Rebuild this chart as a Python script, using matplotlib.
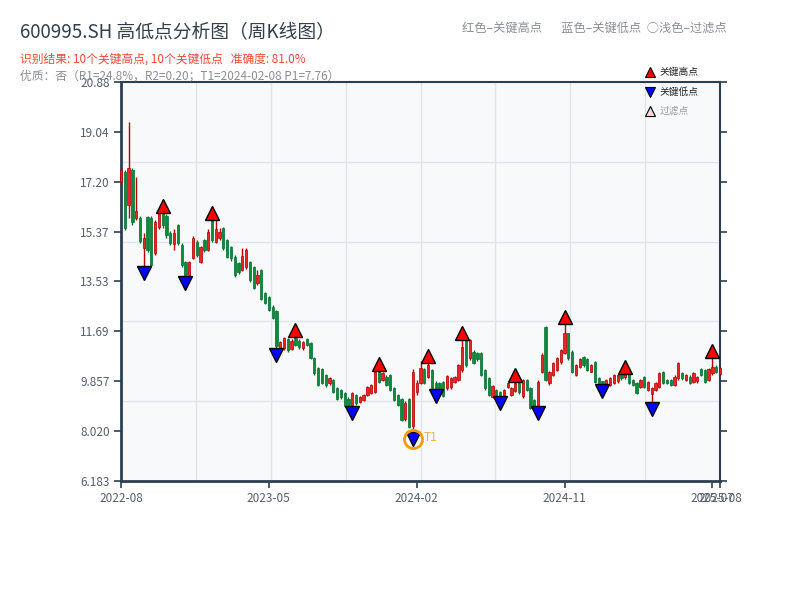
import numpy as np
import matplotlib
matplotlib.use("Agg")
import matplotlib.pyplot as plt
from matplotlib.transforms import offset_copy
from matplotlib.lines import Line2D

plt.rcParams['font.family'] = ['Noto Sans CJK SC', 'DejaVu Sans']

# ---------------- data (weekly OHLC) ----------------
opens = [17.20, 17.57, 16.35, 17.64, 15.87, 15.87, 14.77, 15.90, 15.87, 14.58,
         15.54, 16.05, 15.95, 15.32, 14.90, 15.61, 14.88, 14.25, 13.77, 14.40,
         14.99, 14.25, 15.06, 14.69, 15.80, 15.00, 15.13, 15.50, 15.06, 14.80,
         14.43, 14.20, 13.96, 14.06, 14.25, 14.07, 13.48, 13.96, 13.10, 12.95,
         12.60, 12.45, 10.95, 11.08, 11.40, 11.05, 11.45, 11.35, 11.08, 11.40,
         11.27, 10.72, 10.33, 10.30, 10.09, 9.78, 9.90, 9.60, 9.53, 9.41,
         9.20, 8.95, 9.35, 9.11, 9.17, 9.35, 9.41, 9.47, 10.21, 9.90,
         10.03, 10.09, 9.60, 9.35, 9.20, 8.45, 9.20, 8.20, 9.45, 9.80,
         10.30, 10.03, 10.27, 9.80, 9.78, 9.84, 9.60, 9.63, 9.84, 9.90,
         10.27, 11.38, 10.70, 10.95, 10.88, 10.88, 10.27, 9.97, 9.29, 9.55,
         9.45, 9.29, 9.66, 9.35, 9.50, 9.80, 9.30, 9.90, 9.60, 9.17,
         8.92, 10.21, 11.87, 9.78, 10.09, 10.27, 10.55, 10.89, 11.62, 10.95,
         10.09, 10.39, 10.76, 10.66, 10.21, 10.58, 9.97, 9.85, 9.72, 9.72,
         9.78, 9.85, 10.13, 10.00, 10.14, 9.90, 9.78, 9.66, 10.03, 9.54,
         9.40, 9.54, 9.66, 10.21, 9.90, 9.90, 9.72, 9.97, 10.15, 9.90,
         10.03, 9.84, 9.85, 10.30, 10.27, 9.90, 10.15, 10.40, 10.12]
closes = [17.64, 15.50, 17.71, 15.72, 16.13, 15.02, 15.13, 14.70, 14.14, 15.72,
          16.05, 15.60, 15.24, 14.95, 15.32, 14.95, 14.14, 13.77, 14.25, 15.13,
          14.51, 14.80, 14.69, 15.35, 15.06, 15.45, 15.35, 14.77, 14.43, 14.40,
          13.77, 13.88, 14.47, 14.69, 13.58, 13.30, 13.77, 12.90, 12.75, 12.50,
          12.20, 11.15, 11.30, 11.45, 11.00, 11.35, 11.20, 11.12, 11.30, 11.20,
          10.72, 10.16, 9.72, 9.81, 9.72, 9.96, 9.47, 9.19, 9.27, 8.95,
          9.00, 9.41, 9.04, 9.29, 9.35, 9.63, 9.72, 10.21, 9.84, 10.15,
          9.72, 9.53, 9.17, 9.00, 8.43, 9.06, 8.18, 10.20, 9.80, 10.35,
          9.80, 10.45, 9.60, 9.60, 9.38, 9.32, 10.05, 9.97, 10.00, 10.46,
          11.13, 10.46, 11.38, 10.52, 10.66, 10.09, 9.60, 9.35, 9.68, 9.35,
          9.33, 9.54, 9.78, 9.60, 9.80, 9.45, 9.90, 9.54, 8.86, 8.95,
          9.84, 10.82, 9.90, 10.21, 10.52, 10.70, 11.00, 11.62, 10.70, 10.21,
          10.45, 10.66, 10.45, 10.27, 10.45, 9.84, 9.76, 9.75, 9.90, 9.97,
          10.09, 10.10, 9.97, 10.14, 9.78, 9.72, 9.44, 9.90, 9.66, 9.84,
          9.60, 9.78, 10.15, 9.78, 9.78, 9.72, 10.03, 10.52, 9.97, 10.09,
          9.78, 10.15, 10.00, 10.10, 9.84, 10.30, 10.40, 10.21, 10.33]
highs = [17.72, 17.65, 19.41, 17.70, 17.38, 15.95, 15.30, 15.95, 15.95, 15.80,
         16.08, 16.09, 16.00, 15.40, 15.45, 15.65, 14.95, 14.30, 14.30, 15.20,
         15.05, 14.85, 15.10, 15.45, 15.83, 15.78, 15.50, 15.55, 15.10, 14.85,
         14.50, 14.25, 14.75, 14.75, 14.30, 14.10, 13.96, 14.00, 13.15, 13.00,
         12.65, 12.50, 11.35, 11.48, 11.45, 11.40, 11.49, 11.40, 11.35, 11.45,
         11.30, 10.75, 10.38, 10.35, 10.12, 10.02, 9.95, 9.65, 9.58, 9.45,
         9.28, 9.45, 9.40, 9.33, 9.40, 9.68, 9.76, 10.23, 10.24, 10.20,
         10.08, 10.12, 9.65, 9.40, 9.25, 9.12, 9.25, 10.30, 9.90, 10.60,
         10.35, 10.53, 10.30, 9.85, 9.82, 9.88, 10.10, 10.02, 10.05, 10.50,
         11.41, 11.40, 11.40, 11.00, 10.92, 10.92, 10.30, 10.00, 9.72, 9.58,
         9.50, 9.58, 9.82, 9.65, 9.84, 9.82, 9.95, 9.95, 9.65, 9.20,
         9.90, 10.88, 11.90, 10.25, 10.56, 10.75, 11.05, 12.00, 11.65, 11.00,
         10.50, 10.70, 10.80, 10.70, 10.50, 10.62, 10.00, 9.88, 9.94, 10.00,
         10.12, 10.13, 10.15, 10.16, 10.15, 9.94, 9.82, 9.94, 10.06, 9.88,
         9.65, 9.82, 10.20, 10.25, 9.94, 9.94, 10.08, 10.56, 10.20, 10.14,
         10.08, 10.20, 10.05, 10.35, 10.30, 10.35, 10.74, 10.45, 10.38]
lows = [17.05, 15.42, 15.87, 15.60, 15.80, 14.95, 14.07, 14.60, 14.10, 14.50,
        15.45, 15.50, 15.15, 14.88, 14.70, 14.88, 14.05, 13.73, 13.74, 14.35,
        14.45, 14.20, 14.60, 14.65, 15.00, 14.95, 15.05, 14.70, 14.38, 14.30,
        13.70, 13.80, 13.90, 14.00, 13.50, 13.25, 13.40, 12.85, 12.70, 12.45,
        12.15, 11.05, 10.90, 11.00, 10.95, 11.00, 11.15, 11.05, 11.02, 11.15,
        10.68, 10.10, 9.68, 9.75, 9.66, 9.72, 9.42, 9.15, 9.20, 8.92,
        8.95, 8.91, 9.00, 9.05, 9.12, 9.30, 9.38, 9.44, 9.80, 9.85,
        9.68, 9.48, 9.12, 8.95, 8.38, 8.40, 8.12, 7.98, 9.35, 9.75,
        9.75, 9.98, 9.58, 9.56, 9.33, 9.28, 9.55, 9.58, 9.80, 9.85,
        10.20, 10.40, 10.65, 10.48, 10.60, 10.05, 9.55, 9.30, 9.25, 9.30,
        9.28, 9.25, 9.60, 9.30, 9.45, 9.40, 9.25, 9.50, 8.82, 8.92,
        8.91, 10.15, 9.85, 9.72, 10.05, 10.22, 10.50, 10.85, 10.65, 10.15,
        10.05, 10.35, 10.40, 10.22, 10.18, 9.80, 9.73, 9.72, 9.70, 9.70,
        9.75, 9.80, 9.92, 9.95, 9.74, 9.68, 9.40, 9.62, 9.62, 9.50,
        9.06, 9.50, 9.62, 9.74, 9.74, 9.68, 9.68, 9.92, 9.92, 9.86,
        9.74, 9.80, 9.80, 10.05, 9.80, 9.85, 10.10, 10.16, 10.08]

key_high_idx = [11, 24, 46, 68, 81, 90, 104, 117, 133, 156]
key_low_idx = [6, 17, 41, 61, 77, 83, 100, 110, 127, 140]
t1_idx = 77

x_tick_pos = [0, 39, 78, 117, 156, 158]
x_tick_labels = ["2022-08", "2023-05", "2024-02", "2024-11", "2025-07", "2025-08"]
y_min, y_max = 6.183, 20.88
y_tick_labels = ["6.183", "8.020", "9.857", "11.69", "13.53", "15.37", "17.20", "19.04", "20.88"]

title = "600995.SH 高低点分析图（周K线图）"
subtitle1 = "识别结果: 10个关键高点, 10个关键低点   准确度: 81.0%"
subtitle2 = "优质：否（R1=24.8%，R2=0.20；T1=2024-02-08 P1=7.76）"
note_text = "红色–关键高点       蓝色–关键低点  ○浅色–过滤点"
legend_labels = ["关键高点", "关键低点", "过滤点"]

# ---------------- figure ----------------
W, H = 800, 600
fig = plt.figure(figsize=(8, 6), dpi=100)
L, R, T, B = 121, 720, 82, 481
ax = fig.add_axes([L / W, 1 - B / H, (R - L) / W, (B - T) / H])
ax.set_facecolor('#f7f9fb')

n = len(opens)
xs = np.arange(n)
o = np.array(opens); c = np.array(closes); hi = np.array(highs); lo = np.array(lows)
up = c >= o
red_f, red_e = '#e8262a', '#b30000'
grn_f, grn_e = '#0c8a3c', '#08702f'

ax.vlines(xs[up], lo[up], hi[up], color=red_e, lw=1.0, zorder=3, clip_on=False)
ax.vlines(xs[~up], lo[~up], hi[~up], color=grn_e, lw=1.0, zorder=3, clip_on=False)
ax.bar(xs[up], (c - o)[up], bottom=o[up], width=0.6, color=red_f,
       edgecolor=red_e, lw=0.5, zorder=4, clip_on=False)
ax.bar(xs[~up], (o - c)[~up], bottom=c[~up], width=0.6, color=grn_f,
       edgecolor=grn_e, lw=0.5, zorder=4, clip_on=False)

tr_up = offset_copy(ax.transData, fig=fig, x=0, y=6.5, units='dots')
tr_dn = offset_copy(ax.transData, fig=fig, x=0, y=-6.5, units='dots')
ax.plot(key_high_idx, hi[key_high_idx], ls='none', marker='^', ms=9.5,
        mfc='#ff0000', mec='black', mew=1.0, transform=tr_up, zorder=6, clip_on=False)
ax.plot(key_low_idx, lo[key_low_idx], ls='none', marker='v', ms=9.5,
        mfc='#0000ff', mec='black', mew=1.0, transform=tr_dn, zorder=6, clip_on=False)

# T1 highlight
ax.plot([t1_idx], [lo[t1_idx]], ls='none', marker='o', ms=13, mfc='none',
        mec='#f39c12', mew=2, transform=tr_dn, zorder=7)
tr_txt = offset_copy(ax.transData, fig=fig, x=11, y=-5, units='dots')
ax.text(t1_idx, lo[t1_idx], "T1", transform=tr_txt, color='#f5b041',
        fontsize=8.5, va='center', ha='left', zorder=7)

# axes / ticks
ax.set_xlim(0, n - 1)
ax.set_ylim(y_min, y_max)
ax.set_xticks(x_tick_pos)
ax.set_xticklabels(x_tick_labels)
ax.set_yticks(np.linspace(y_min, y_max, 9))
ax.set_yticklabels(y_tick_labels)
ax.set_xticks(np.linspace(0, n - 1, 9), minor=True)
ax.set_yticks(np.linspace(y_min, y_max, 6), minor=True)
ax.grid(False)
ax.grid(which='minor', color='#e1e5eb', lw=1.0)
ax.set_axisbelow(True)
ax.tick_params(which='minor', length=0)
ax.tick_params(which='major', direction='out', length=5, width=1.2, color='#2c3e50',
               labelsize=8.5, labelcolor='#555e6b', right=True, labelright=False, pad=3)
for s in ax.spines.values():
    s.set_color('#2c3e50')
    s.set_linewidth(1.5)
ax.spines['left'].set_linewidth(2)
ax.spines['bottom'].set_linewidth(2)

# titles
fig.text(20 / W, 1 - 33 / H, title, fontsize=13.5, color='#333f4d', va='center', ha='left')
fig.text(20 / W, 1 - 59 / H, subtitle1, fontsize=8.5, color='#ea4b3c', va='center', ha='left')
fig.text(20 / W, 1 - 76 / H, subtitle2, fontsize=8.5, color='#8a8f96', va='center', ha='left')
fig.text(727 / W, 1 - 28 / H, note_text, fontsize=8.8, color='#8a8f96', va='center', ha='right')

# legend
leg_y = [72, 92, 111]
leg_mk = [('^', '#ff0000'), ('v', '#0000ff'), ('^', '#ffd6d6')]
leg_tc = ['#222222', '#222222', '#999999']
for (mk, fc), yy, lab, tc in zip(leg_mk, leg_y, legend_labels, leg_tc):
    fig.add_artist(Line2D([650 / W], [1 - yy / H], marker=mk, ms=6.5, mfc=fc,
                          mec='black', mew=0.8, ls='none', transform=fig.transFigure))
    fig.text(660 / W, 1 - yy / H, lab, fontsize=7, color=tc, va='center', ha='left')

fig.savefig('out.png', dpi=100)
